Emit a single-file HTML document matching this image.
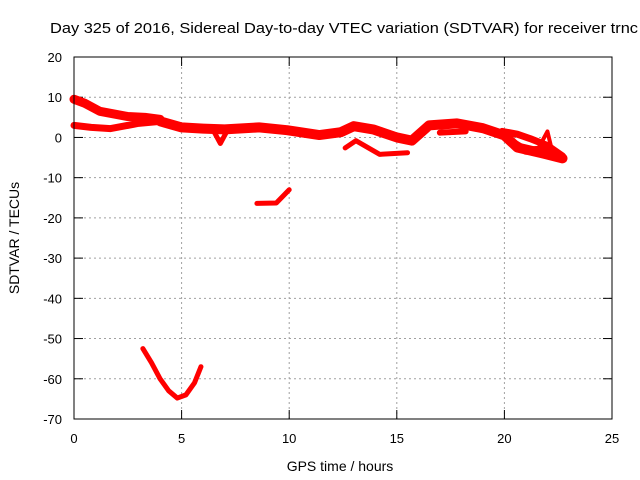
<!DOCTYPE html>
<html><head><meta charset="utf-8"><style>
body{margin:0;background:#fff}
svg{display:block;font-family:"Liberation Sans",sans-serif}
</style></head><body>
<svg id="c" width="640" height="480" viewBox="0 0 640 480">
<text x="50" y="33" font-size="15" textLength="588" lengthAdjust="spacingAndGlyphs">Day 325 of 2016, Sidereal Day-to-day VTEC variation (SDTVAR) for receiver trnc</text>
<text x="340" y="471" font-size="14" text-anchor="middle">GPS time / hours</text>
<text transform="translate(19,238) rotate(-90)" font-size="14" text-anchor="middle">SDTVAR / TECUs</text>
<g id="grid"></g><g id="ticks"></g><g id="series"></g>
<rect x="74" y="57" width="538" height="362" fill="none" stroke="#000" stroke-width="1"/>
</svg>
<script>
const xTicks=[0,5,10,15,20,25];
const yTicks=[20,10,0,-10,-20,-30,-40,-50,-60,-70];
const mainBandHours=[4,5,6,7,8.6,9.9,11.4,12.4,13,13.9,15,15.7,16.5,17.8,19,20,20.6,21.8,22.7];
const mainBandValues=[4,2.5,2.2,2,2.5,1.8,0.6,1.3,2.8,2,0,-0.8,3,3.5,2.3,0.5,-2.5,-4,-5.2];
const upperBandHours=[0,0.5,1.2,2.5,3.3,4];
const upperBandValues=[9.5,8.5,6.5,5.2,5,4.5];
const lowerBandHours=[0,0.8,1.7,3,4];
const lowerBandValues=[3,2.5,2.2,3.5,4];
const branchHours=[19.9,20.6,21.2,22,22.7];
const branchValues=[1.5,0.8,-0.3,-2,-4.6];
const blobHours=[20.3,21,21.8,22.5];
const blobValues=[-1,-3.3,-3,-4.2];
const spikeHours=[21.6,22,22.2];
const spikeValues=[-2.5,1.5,-3];
const dipSpikeHours=[6.5,6.8,7.1];
const dipSpikeValues=[1.5,-1.5,1.5];
const midHours=[17,18.2];
const midValues=[1.2,1.5];
const arcHours=[12.6,13.1,14.2,15.5];
const arcValues=[-2.6,-0.8,-4.2,-3.8];
const segHours=[8.5,9.4,10];
const segValues=[-16.4,-16.3,-13];
const dipHours=[3.2,3.6,4,4.4,4.8,5.2,5.6,5.9];
const dipValues=[-52.5,-56,-60,-63,-64.8,-64,-61,-57];
const X=h=>74+h*538/25, Y=v=>57+(20-v)*362/90;
const NS='http://www.w3.org/2000/svg';
const g=document.getElementById('grid'),t=document.getElementById('ticks'),s=document.getElementById('series');
function mk(tag,at,p){const e=document.createElementNS(NS,tag);for(const k in at)e.setAttribute(k,at[k]);p.appendChild(e);return e;}
xTicks.forEach(v=>{const x=X(v);
 if(v>0&&v<25){const l=mk('line',{x1:x,x2:x,y1:57,y2:419,stroke:'#a0a0a0','stroke-dasharray':'2,3'},g);
 
 }
 mk('line',{x1:x,x2:x,y1:419,y2:410,stroke:'#000'},t);mk('line',{x1:x,x2:x,y1:57,y2:66,stroke:'#000'},t);
 const tx=mk('text',{x:x,y:443,'font-size':13,'text-anchor':'middle'},t);tx.textContent=v;
 
 });
yTicks.forEach(v=>{const y=Y(v);
 if(v<20&&v>-70){const l=mk('line',{x1:74,x2:612,y1:y,y2:y,stroke:'#a0a0a0','stroke-dasharray':'2,3'},g);
 
 }
 mk('line',{x1:74,x2:83,y1:y,y2:y,stroke:'#000'},t);mk('line',{x1:603,x2:612,y1:y,y2:y,stroke:'#000'},t);
 const tx=mk('text',{x:62,y:y+5,'font-size':13,'text-anchor':'end'},t);tx.textContent=v;
 
 });
function line(hs,vs,w,name){const pts=hs.map((h,i)=>X(h)+','+Y(vs[i])).join(' ');
 const p=mk('polyline',{points:pts,fill:'none',stroke:'#ff0000','stroke-width':w,'stroke-linejoin':'round','stroke-linecap':'round'},s);
 
 }
line(mainBandHours,mainBandValues,10,'series-main-band');
line(upperBandHours,upperBandValues,9,'series-upper-band');
line(lowerBandHours,lowerBandValues,7,'series-lower-band');
line(branchHours,branchValues,7,'series-branch');
line(blobHours,blobValues,8,'series-blob');
line(spikeHours,spikeValues,4,'series-spike');
line(dipSpikeHours,dipSpikeValues,5,'series-dip-spike');
line(midHours,midValues,6,'series-mid');
line(arcHours,arcValues,5,'series-arc');
line(segHours,segValues,5,'series-segment');
line(dipHours,dipValues,5,'series-dip');
</script>
</body></html>
